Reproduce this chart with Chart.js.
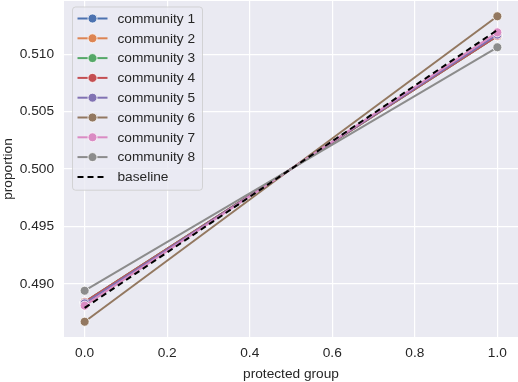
<!DOCTYPE html>
<html>
<head>
<meta charset="utf-8">
<script src="https://cdn.jsdelivr.net/npm/chart.js@4.4.1/dist/chart.umd.min.js"></script>
<style>
  html, body { margin: 0; padding: 0; background: #fff; }
  #wrap { width: 518px; height: 382px; }
</style>
</head>
<body>
<div id="wrap"><canvas id="chart" width="518" height="382"></canvas></div>
<script>
// x positions (protected group) and per-community proportions
const groups = [0, 1];
const communityNames = ["community 1", "community 2", "community 3", "community 4",
                        "community 5", "community 6", "community 7", "community 8"];
const community1 = [0.4884, 0.5116];
const community2 = [0.4884, 0.5116];
const community3 = [0.4884, 0.5116];
const community4 = [0.4884, 0.5116];
const community5 = [0.4883, 0.5117];
const community6 = [0.4867, 0.5133];
const community7 = [0.4881, 0.5119];
const community8 = [0.4894, 0.5106];
const baseline = [0.4879, 0.5121];
const colors = ["#4C72B0", "#DD8452", "#55A868", "#C44E52", "#8172B3", "#937860", "#DA8BC3", "#8C8C8C"];
const xTicks = [0.0, 0.2, 0.4, 0.6, 0.8, 1.0];
const yTicks = [0.490, 0.495, 0.500, 0.505, 0.510];

const FONT = 'Arial, "Liberation Sans", sans-serif';
const TXT = "#262626";
const FS = 13.7;

const series = [community1, community2, community3, community4,
                community5, community6, community7, community8];

const datasets = series.map((vals, i) => ({
  label: communityNames[i],
  data: groups.map((g, j) => ({ x: g, y: vals[j] })),
  borderColor: colors[i],
  backgroundColor: colors[i],
  borderWidth: 2,
  pointRadius: 4.5,
  pointBorderColor: "#fff",
  pointBorderWidth: 0.8,
  pointBackgroundColor: colors[i],
  order: series.length - i
}));
datasets.push({
  label: "baseline",
  data: groups.map((g, j) => ({ x: g, y: baseline[j] })),
  borderColor: "#000",
  borderWidth: 2,
  borderDash: [6, 4],
  pointRadius: 0,
  order: 0
});

// plot background
const bgPlugin = {
  id: "bg",
  beforeDraw(chart) {
    const a = chart.chartArea, ctx = chart.ctx;
    ctx.save();
    ctx.fillStyle = "#EAEAF2";
    ctx.fillRect(a.left, a.top, a.right - a.left, a.bottom - a.top);
    ctx.restore();
  }
};

// matplotlib-like legend inside plot, upper left
const legendBox = {
  id: "legendBox",
  afterDatasetsDraw(chart) {
    const ctx = chart.ctx, a = chart.chartArea;
    const ds = chart.data.datasets;
    const x0 = a.left + 8.5, y0 = a.top + 6, w = 130, rowH = 19.8;
    const h = rowH * ds.length + 5;
    ctx.save();
    ctx.globalAlpha = 0.8;
    ctx.fillStyle = "#EAEAF2";
    ctx.strokeStyle = "#CCCCCC";
    ctx.lineWidth = 1;
    ctx.beginPath();
    ctx.roundRect(x0, y0, w, h, 3);
    ctx.fill();
    ctx.stroke();
    ctx.globalAlpha = 1;
    ctx.font = FS + "px " + FONT;
    ctx.textBaseline = "middle";
    ds.forEach((d, i) => {
      const cy = y0 + 11.5 + i * rowH;
      ctx.strokeStyle = d.borderColor;
      ctx.lineWidth = d.borderWidth;
      ctx.setLineDash(d.borderDash || []);
      ctx.beginPath();
      ctx.moveTo(x0 + 5, cy);
      ctx.lineTo(x0 + 35, cy);
      ctx.stroke();
      ctx.setLineDash([]);
      if (d.pointRadius) {
        ctx.fillStyle = d.pointBackgroundColor;
        ctx.strokeStyle = "#fff";
        ctx.lineWidth = 0.8;
        ctx.beginPath();
        ctx.arc(x0 + 20, cy, 4.5, 0, Math.PI * 2);
        ctx.fill();
        ctx.stroke();
      }
      ctx.fillStyle = TXT;
      ctx.fillText(d.label, x0 + 45, cy + 0.5);
    });
    ctx.restore();
  }
};

new Chart(document.getElementById("chart"), {
  type: "line",
  data: { datasets },
  plugins: [bgPlugin, legendBox],
  options: {
    responsive: false,
    animation: false,
    layout: { autoPadding: false, padding: { top: 1, right: 0, left: 0, bottom: 0 } },
    plugins: { legend: { display: false }, tooltip: { enabled: false } },
    scales: {
      x: {
        type: "linear",
        min: -0.05,
        max: 1.05,
        afterBuildTicks: s => { s.ticks = xTicks.map(v => ({ value: v })); },
        afterFit: s => { s.height = 45; s.paddingLeft = 0; s.paddingRight = 0; },
        border: { display: false },
        grid: { color: "#fff", lineWidth: 1.2, drawTicks: false },
        ticks: {
          padding: 8,
          color: TXT,
          font: { family: FONT, size: FS },
          callback: v => v.toFixed(1)
        },
        title: {
          display: true,
          text: "protected group",
          color: TXT,
          font: { family: FONT, size: FS },
          padding: { top: 2, bottom: 0 }
        }
      },
      y: {
        min: 0.48537,
        max: 0.51463,
        afterBuildTicks: s => { s.ticks = yTicks.map(v => ({ value: v })); },
        afterFit: s => { s.width = 64; s.paddingTop = 0; s.paddingBottom = 0; },
        border: { display: false },
        grid: { color: "#fff", lineWidth: 1.2, drawTicks: false },
        ticks: {
          padding: 10,
          color: TXT,
          font: { family: FONT, size: FS },
          callback: v => v.toFixed(3)
        },
        title: {
          display: true,
          text: "proportion",
          color: TXT,
          font: { family: FONT, size: FS },
          padding: { top: 0, bottom: 2 }
        }
      }
    }
  }
});
</script>
</body>
</html>
